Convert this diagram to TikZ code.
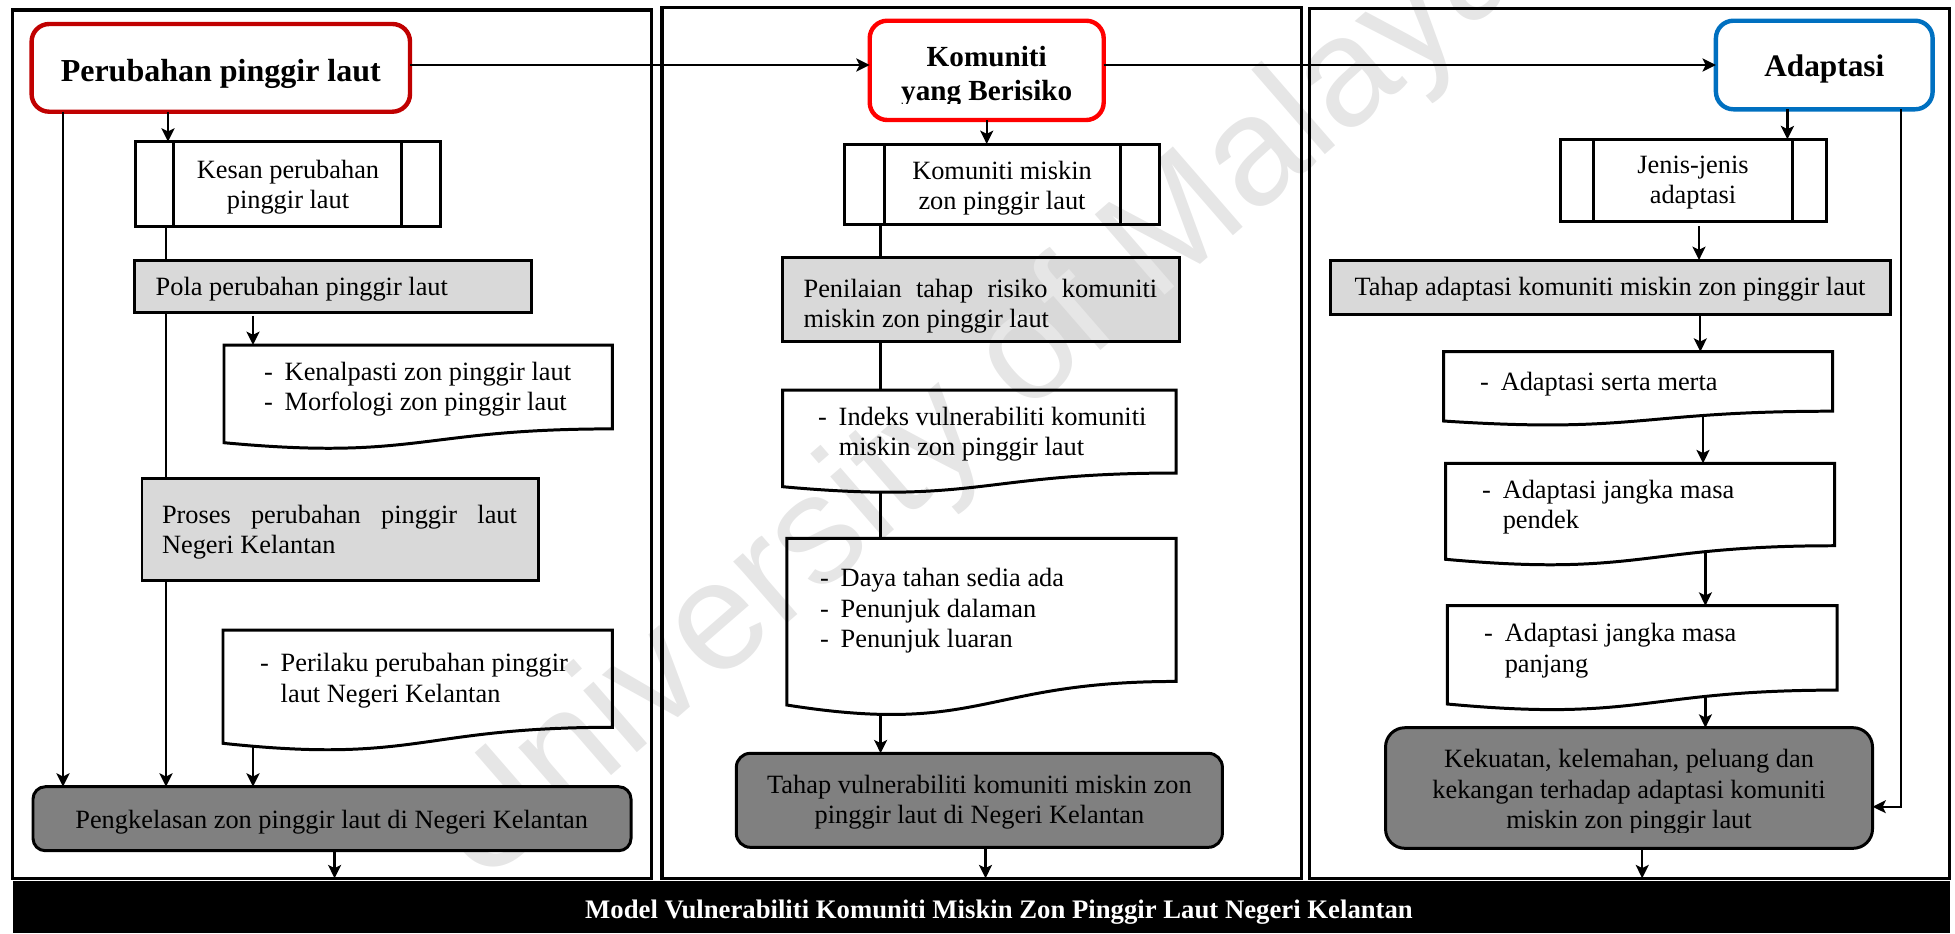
\documentclass[tikz,border=0pt]{standalone}
\usepackage{fontspec}
\setmainfont{Liberation Serif}
\newfontfamily\wmfont{Liberation Sans}
\usetikzlibrary{arrows.meta,calc}

\newlength\upx \setlength\upx{0.01cm}
\definecolor{redA}{HTML}{C00000}
\definecolor{redB}{HTML}{FF0000}
\definecolor{blueC}{HTML}{0070C0}
\definecolor{lightfill}{HTML}{D9D9D9}
\definecolor{darkfill}{HTML}{808080}
\definecolor{wmgray}{HTML}{E6E6E6}

\pgfdeclarelayer{fills}
\pgfdeclarelayer{mark}
\pgfsetlayers{fills,mark,main}

% text helpers
\newcommand\fn{\fontsize{7.5pt}{8.68pt}\selectfont}
\newcommand\tc[1]{\begin{tabular}[t]{@{}c@{}}#1\end{tabular}}
\newcommand\tl[1]{\begin{tabular}[t]{@{}l@{}}#1\end{tabular}}
\newcommand\tdash[1]{\begin{tabular}[t]{@{}l@{\hspace{3.4pt}}l@{}}#1\end{tabular}}

% box from its corners (x1,y1)-(x2,y2), in pixel units
\newcommand\bx[6]{\node[#1,minimum width={(#5-#3)*\upx},minimum height={(#6-#4)*\upx}] (#2) at ({(#3+#5)/2},{(#4+#6)/2}) {};}

% document shape: name, left, top, right, bottom of left edge
\newcommand\docbox[5]{%
  \pgfmathsetmacro\docH{(#5-#3)/0.934}%
  \pgfmathsetmacro\docR{#3+0.802*\docH}%
  \pgfmathsetmacro\docC{#3+1.107*\docH}%
  \pgfmathsetmacro\docM{(#2+#4)/2}%
  \node[inner sep=0,outer sep=0,minimum width={(#4-#2)*\upx},minimum height={(\docR-#3)*\upx}] (#1) at ({(#2+#4)/2},{(#3+\docR)/2}) {};
  \draw[boxline] (#1.south east) .. controls (\docM,\docR) and (\docM,\docC) .. (#2,#5) -- (#1.north west) -- (#1.north east) -- cycle;
}

% predefined-process side bars
\newcommand\procbars[1]{\draw[boxline] ($(#1.north west)!0.125!(#1.north east)$) -- ($(#1.south west)!0.125!(#1.south east)$)
  ($(#1.north east)!0.125!(#1.north west)$) -- ($(#1.south east)!0.125!(#1.south west)$);}

\tikzset{
  panel/.style={draw,line width=1pt,inner sep=0,outer sep=0},
  bar/.style={fill=black,draw=none,inner sep=0,outer sep=0},
  title/.style={draw,line width=1.25pt,rounded corners=5pt,inner sep=0,outer sep=0},
  plain/.style={draw,line width=0.85pt,inner sep=0,outer sep=0},
  darkbox/.style={plain,fill=darkfill,rounded corners=#1},
  boxline/.style={line width=0.85pt},
  conn/.style={line width=0.65pt},
  arr/.style={conn,-{Stealth[length=3.8pt,width=3.7pt,inset=0.9pt]}},
  lbl/.style={inner sep=0,outer sep=0,font=\fn},
}

\begin{document}
\begin{tikzpicture}[x=0.01cm,y=-0.01cm]
\useasboundingbox (0,0) rectangle (1955,933);

% ---------- frames and caption bar ----------
\bx{panel}{pA}{12.6}{10}{651.5}{878.3}
\bx{panel}{pB}{661.8}{7.3}{1301.5}{878.3}
\bx{panel}{pC}{1309.7}{8.3}{1949.5}{878.3}
\bx{bar}{bar}{12.6}{880.7}{1949.5}{933}
\node[lbl,anchor=base,text=white,font=\fontsize{7.6pt}{9pt}\selectfont\bfseries] (bartxt) at (999,918)
  {Model Vulnerabiliti Komuniti Miskin Zon Pinggir Laut Negeri Kelantan};

% ---------- column 1 ----------
\bx{title,draw=redA}{tA}{31.6}{24}{410}{111.7}
\node[lbl,anchor=base,font=\fontsize{9.1pt}{11pt}\selectfont\bfseries] (tAtxt) at (220.8,81) {Perubahan pinggir laut};

\bx{plain}{kesan}{135.5}{141.7}{440}{226.7}
\procbars{kesan}
\node[lbl,anchor=base] (kesantxt) at (288,178) {\tc{Kesan perubahan\\pinggir laut}};

\bx{plain}{pola}{134.7}{260}{531.6}{312.3}
\node[lbl,anchor=base west] (polatxt) at (155.7,295) {Pola perubahan pinggir laut};

\docbox{dA}{224}{345}{612.4}{442.7}
\node[lbl,anchor=base west] (dAtxt) at (264,380) {\tdash{-&Kenalpasti zon pinggir laut\\-&Morfologi zon pinggir laut}};

\bx{plain}{proses}{142}{478.3}{538.7}{580}
\node[lbl,anchor=base west] (prosestxt) at (162,523.3) {\tl{\makebox[355\upx][s]{Proses perubahan pinggir laut}\\Negeri Kelantan}};

\docbox{dB}{223}{630}{612.4}{743.3}
\node[lbl,anchor=base west] (dBtxt) at (260,671.7) {\tdash{-&Perilaku perubahan pinggir\\&laut Negeri Kelantan}};

\bx{darkbox=3.5pt}{pk}{33}{786.7}{631}{850.7}
\node[lbl,anchor=base] (pktxt) at (331.7,828.3) {Pengkelasan zon pinggir laut di Negeri Kelantan};

% ---------- column 2 ----------
\bx{title,draw=redB}{tB}{869.7}{20.7}{1103.7}{120}
\begin{scope}
  \clip (860,0) rectangle (1110,103);
  \node[lbl,anchor=base,font=\fontsize{8.3pt}{9.76pt}\selectfont\bfseries] (tBtxt) at (986.7,66) {\tc{Komuniti\\yang Berisiko}};
\end{scope}

\bx{plain}{km}{844.9}{144}{1159.3}{224}
\procbars{km}
\node[lbl,anchor=base] (kmtxt) at (1002,179) {\tc{Komuniti miskin\\zon pinggir laut}};

\bx{plain}{pn}{782.6}{257.3}{1179}{341.7}
\node[lbl,anchor=base west] (pntxt) at (803.6,297) {\tl{\makebox[353.6\upx][s]{Penilaian tahap risiko komuniti}\\miskin zon pinggir laut}};

\docbox{dC}{782.6}{390}{1176.1}{486.7}
\node[lbl,anchor=base west] (dCtxt) at (818,425) {\tdash{-&Indeks vulnerabiliti komuniti\\&miskin zon pinggir laut}};

\docbox{dD}{786.8}{538.3}{1176.1}{705}
\node[lbl,anchor=base west] (dDtxt) at (820,586.7) {\tdash{-&Daya tahan sedia ada\\-&Penunjuk dalaman\\-&Penunjuk luaran}};

\bx{darkbox=4pt}{tv}{736.3}{753.3}{1222.4}{847.3}
\node[lbl,anchor=base] (tvtxt) at (979.4,793.3) {\tc{Tahap vulnerabiliti komuniti miskin zon\\pinggir laut di Negeri Kelantan}};

% ---------- column 3 ----------
\bx{title,draw=blueC}{tC}{1715.9}{20.7}{1932.6}{109.3}
\node[lbl,anchor=base,font=\fontsize{8.9pt}{11pt}\selectfont\bfseries] (tCtxt) at (1824.3,76) {Adaptasi};

\bx{plain}{jn}{1560.2}{139.3}{1826.2}{221}
\procbars{jn}
\node[lbl,anchor=base] (jntxt) at (1693,173.3) {\tc{Jenis-jenis\\adaptasi}};

\bx{plain}{ta}{1330.8}{260}{1890.6}{314}
\node[lbl,anchor=base] (tatxt) at (1610,295) {Tahap adaptasi komuniti miskin zon pinggir laut};

\docbox{dE}{1443.6}{351.7}{1832.5}{421}
\node[lbl,anchor=base west] (dEtxt) at (1480,390) {\tdash{-&Adaptasi serta merta}};

\docbox{dF}{1445.7}{463.3}{1834.6}{559.3}
\node[lbl,anchor=base west] (dFtxt) at (1482,498.3) {\tdash{-&Adaptasi jangka masa\\&pendek}};

\docbox{dG}{1447.4}{605.7}{1837.1}{704}
\node[lbl,anchor=base west] (dGtxt) at (1484,641.7) {\tdash{-&Adaptasi jangka masa\\&panjang}};

\bx{darkbox=5.5pt}{kk}{1385.5}{727.7}{1872.5}{848.3}
\begin{scope}
  \clip (1380,720) rectangle (1880,832);
  \node[lbl,anchor=base] (kktxt) at (1629,767.5) {\tc{Kekuatan, kelemahan, peluang dan\\kekangan terhadap adaptasi komuniti\\miskin zon pinggir laut}};
\end{scope}

% ---------- light fills under everything ----------
\begin{pgfonlayer}{fills}
  \foreach \n in {pola,proses,pn,ta}
    \fill[lightfill] (\n.north west) rectangle (\n.south east);
\end{pgfonlayer}

% ---------- watermark ----------
\begin{pgfonlayer}{mark}
  \node[inner sep=0,anchor=base west,rotate=41,text=wmgray,font=\wmfont\fontsize{44pt}{44pt}\selectfont] (wmark) at (480,890) {University of Malaya};
\end{pgfonlayer}

% ---------- connector columns ----------
\coordinate (rowT) at (0,65);
\coordinate (rowK) at (0,806.7);
\coordinate (cA1) at (63,0);
\coordinate (cA2) at (168,0);
\coordinate (cA3) at (166,0);
\coordinate (cA4) at (253,0);
\coordinate (cA5) at (334.6,0);
\coordinate (cB1) at (880.6,0);
\coordinate (cB2) at (985.5,0);
\coordinate (cC1) at (1787.4,0);
\coordinate (cC2) at (1699,0);
\coordinate (cC3) at (1700.3,0);
\coordinate (cC4) at (1642.2,0);
\coordinate (cC5) at (1901,0);
\coordinate (dBout) at (253,746);
\coordinate (dCout) at (880.6,492.1);
\coordinate (dDout) at (880.6,714.3);
\coordinate (dEout) at (1703,415.5);
\coordinate (dFout) at (1705.4,551.7);
\coordinate (dGout) at (1705.4,696.5);

% ---------- connectors ----------
\draw[arr] (tA.east |- rowT) -- (tB.west |- rowT);
\draw[arr] (tB.east |- rowT) -- (tC.west |- rowT);

\draw[arr] (tA.south -| cA2) -- (kesan.north -| cA2);
\draw[conn] (kesan.south -| cA3) -- (pola.north -| cA3);
\draw[conn] (pola.south -| cA3) -- (proses.north -| cA3);
\draw[arr] (proses.south -| cA3) -- (pk.north -| cA3);
\draw[arr] (tA.south -| cA1) -- (pk.north -| cA1);
\draw[arr,shorten <=1pt] (pola.south -| cA4) -- (dA.north -| cA4);
\draw[arr] (dBout) -- (pk.north -| dBout);
\draw[arr] (pk.south -| cA5) -- (pA.south -| cA5);

\draw[arr] (tB.south) -- (km.north -| tB.south);
\draw[conn] (km.south -| cB1) -- (pn.north -| cB1);
\draw[conn] (pn.south -| cB1) -- (dC.north -| cB1);
\draw[conn] (dCout) -- (dD.north -| dCout);
\draw[arr] (dDout) -- (tv.north -| dDout);
\draw[arr] (tv.south -| cB2) -- (pB.south -| cB2);

\draw[arr] (tC.south -| cC1) -- (jn.north -| cC1);
\draw[arr,shorten <=1.5pt] (jn.south -| cC2) -- (ta.north -| cC2);
\draw[arr] (ta.south -| cC3) -- (dE.north -| cC3);
\draw[arr] (dEout) -- (dF.north -| dEout);
\draw[arr] (dFout) -- (dG.north -| dFout);
\draw[arr] (dGout) -- (kk.north -| dGout);
\draw[arr] (kk.south -| cC4) -- (pC.south -| cC4);
\draw[arr,line width=0.5pt] (tC.south -| cC5) -- (cC5 |- rowK) -- (kk.east |- rowK);
\end{tikzpicture}
\end{document}
